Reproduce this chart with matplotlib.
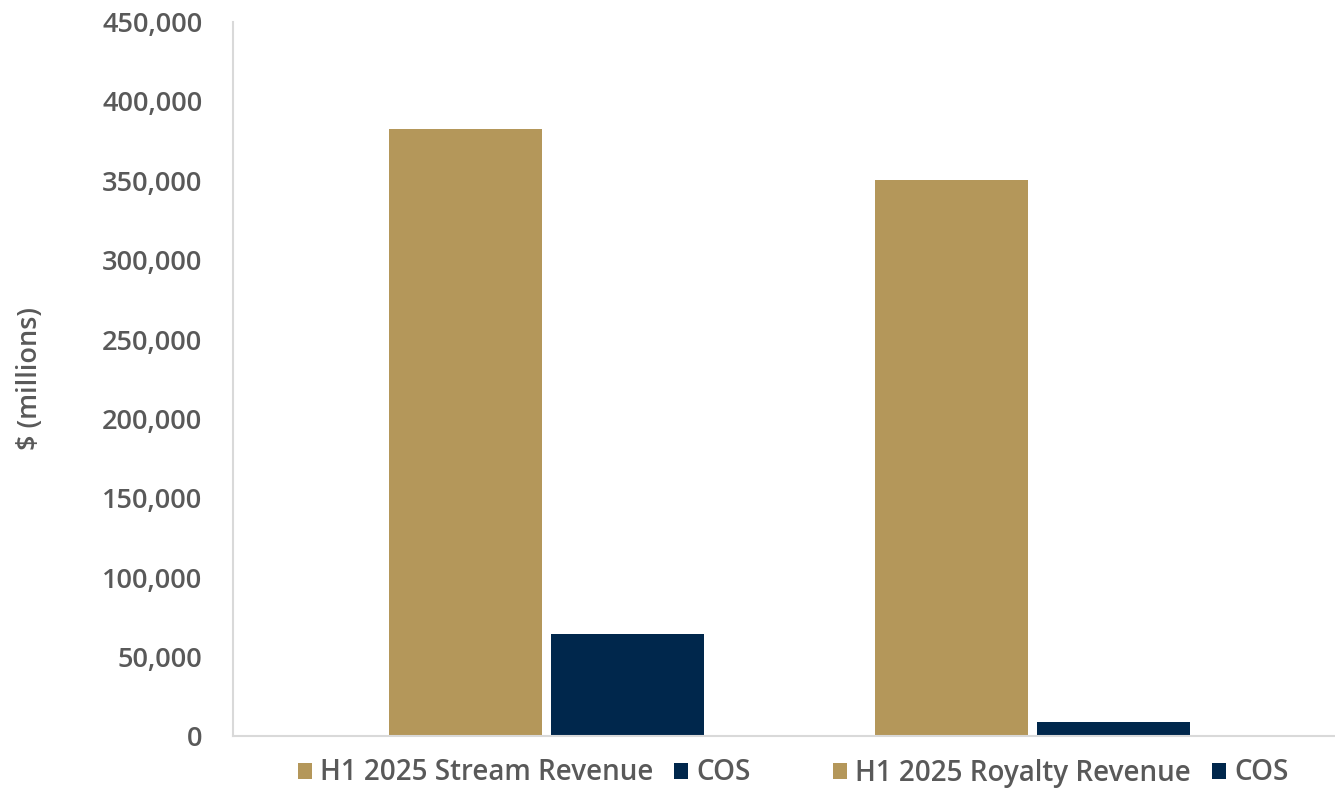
import matplotlib.pyplot as plt
from matplotlib.patches import Patch
from matplotlib.ticker import FuncFormatter

# revenue vs cost of sales, H1 2025
series = ["H1 2025 Stream Revenue", "COS", "H1 2025 Royalty Revenue", "COS"]
values = [382300, 64200, 350200, 8800]
colors = ["#B4975A", "#00274C", "#B4975A", "#00274C"]

# bar centres along the axis (0..1)
xpos = [0.211, 0.358, 0.652, 0.799]
bar_w = 0.139

text_color = "#595959"
plt.rcParams['font.family'] = ['Open Sans', 'DejaVu Sans']

fig = plt.figure(figsize=(13.35, 7.92), dpi=100)
ax = fig.add_axes([233 / 1335, 1 - 736 / 792, 1 - 233 / 1335, (736 - 21.5) / 792])

ax.bar(xpos, values, width=bar_w, color=colors, zorder=2)

ax.set_xlim(0, 1)
ax.set_ylim(0, 450000)
ax.set_yticks(range(0, 450001, 50000))
ax.yaxis.set_major_formatter(FuncFormatter(lambda v, p: f"{int(v):,}"))
ax.set_xticks([])
ax.tick_params(axis='y', length=0, pad=22, labelsize=19.5, labelcolor=text_color)
for lab in ax.get_yticklabels():
    lab.set_fontweight('semibold')

for s in ['top', 'right']:
    ax.spines[s].set_visible(False)
for s in ['left', 'bottom']:
    ax.spines[s].set_color('#D9D9D9')
    ax.spines[s].set_linewidth(1.5)

fig.text(30 / 1335, 1 - 378 / 792, "$ (millions)", rotation=90, ha='center', va='center',
         fontsize=19.5, fontweight='semibold', color=text_color)

# legend in two halves: stream pair and royalty pair
handles = [Patch(facecolor=c, edgecolor='none') for c in colors]
for i, x0 in [(0, 298), (2, 833)]:
    leg = fig.legend(handles[i:i + 2], series[i:i + 2], loc='center left',
                     bbox_to_anchor=(x0 / 1335, 1 - 773 / 792),
                     ncol=2, frameon=False, handlelength=0.5, handleheight=0.5,
                     handletextpad=0.3, columnspacing=0.75, borderpad=0, borderaxespad=0,
                     prop={'size': 20, 'weight': 'semibold'})
    for t in leg.get_texts():
        t.set_color(text_color)

fig.savefig("out.png", dpi=100)
